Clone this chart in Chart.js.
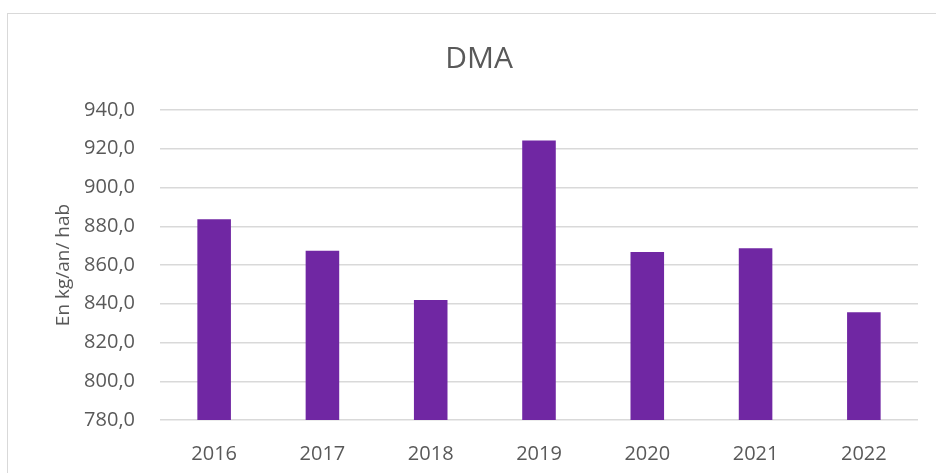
<!DOCTYPE html>
<html lang="fr">
<head>
<meta charset="UTF-8">
<title>DMA</title>
<style>
    html, body {
        margin: 0;
        padding: 0;
        background: #ffffff;
        overflow: hidden;
    }
    .frame {
        position: absolute;
        left: 7px;
        top: 13px;
        width: 940px;
        height: 470px;
        border: 1.5px solid #d9d9d9;
    }
    .wrap {
        position: absolute;
        left: 0;
        top: 0;
        width: 936px;
        height: 473px;
    }
</style>
</head>
<body>
<div class="frame"></div>
<div class="wrap"><canvas id="chart"></canvas></div>

<script src="https://cdn.jsdelivr.net/npm/chart.js"></script>
<script>
// valeurs
const years = ['2016', '2017', '2018', '2019', '2020', '2021', '2022'];
const dma = [883.6, 867.4, 841.9, 924.2, 866.7, 868.6, 835.6];
const yTicks = [780, 800, 820, 840, 860, 880, 900, 920, 940];

const grey = '#595959';
const font = '"Open Sans", "Liberation Sans", sans-serif';

// décale le titre vers la droite, comme dans l'original
const shiftTitle = {
    id: 'shiftTitle',
    afterLayout(chart) {
        if (chart.titleBlock) {
            chart.titleBlock.left += 40;
        }
    }
};

const ctx = document.getElementById('chart').getContext('2d');
const chart = new Chart(ctx, {
    type: 'bar',
    data: {
        labels: years,
        datasets: [{
            label: 'DMA',
            data: dma,
            backgroundColor: '#7027A3',
            borderWidth: 0,
            categoryPercentage: 1,
            barPercentage: 0.31
        }]
    },
    options: {
        responsive: true,
        maintainAspectRatio: false,
        animation: false,
        layout: { padding: { left: 0, right: 18, top: 0, bottom: 0 } },
        plugins: {
            legend: { display: false },
            tooltip: { enabled: false },
            title: {
                display: true,
                text: 'DMA',
                color: grey,
                font: { family: font, size: 30, weight: 'normal' },
                padding: { top: 41, bottom: 33 }
            }
        },
        scales: {
            x: {
                grid: { display: false },
                border: { display: false },
                ticks: {
                    color: grey,
                    padding: 14,
                    font: { family: font, size: 20 }
                },
                afterFit: function (scale) { scale.height = 53; }
            },
            y: {
                min: yTicks[0],
                max: yTicks[yTicks.length - 1],
                afterBuildTicks: function (scale) {
                    scale.ticks = yTicks.map(v => ({ value: v }));
                },
                grid: { color: '#d9d9d9', lineWidth: 1.5, drawTicks: false },
                border: { display: false },
                ticks: {
                    color: grey,
                    padding: 25,
                    font: { family: font, size: 20 },
                    callback: v => v.toFixed(1).replace('.', ',')
                },
                title: {
                    display: true,
                    text: 'En kg/an/ hab',
                    color: grey,
                    font: { family: font, size: 19 },
                    padding: { top: 52, bottom: 0 }
                },
                afterFit: function (scale) { scale.width = 160; }
            }
        }
    },
    plugins: [shiftTitle]
});
</script>
</body>
</html>
